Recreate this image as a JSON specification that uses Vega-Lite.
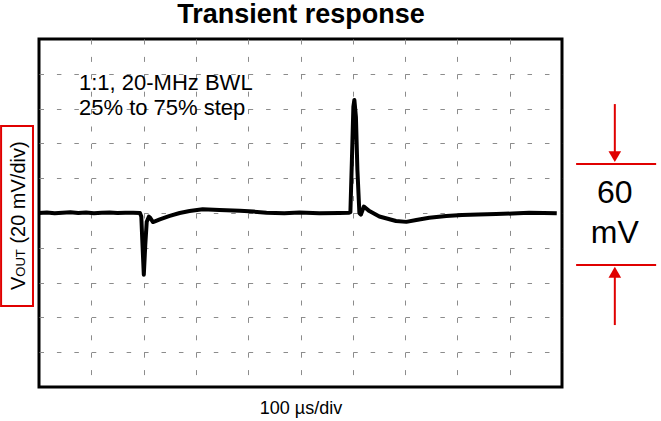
{
  "$schema": "https://vega.github.io/schema/vega-lite/v6.json",
  "width": 523,
  "height": 348,
  "autosize": {"type": "none"},
  "padding": {"left": 39, "top": 39, "right": 99, "bottom": 34},
  "background": "white",
  "config": {"view": {"stroke": "black", "strokeWidth": 3}},
  "datasets": {
    "trace": [
      {"t": 0, "v": 0}, {"t": 15, "v": 0.3}, {"t": 30, "v": -0.2}, {"t": 45, "v": 0.2},
      {"t": 60, "v": 0.4}, {"t": 75, "v": 0}, {"t": 90, "v": 0.3}, {"t": 105, "v": -0.1},
      {"t": 120, "v": 0.2}, {"t": 135, "v": 0.3}, {"t": 150, "v": 0}, {"t": 165, "v": 0.2},
      {"t": 180, "v": 0.1}, {"t": 193, "v": 0}, {"t": 195.6, "v": -2},
      {"t": 197.5, "v": -15.5}, {"t": 200.4, "v": -35.5}, {"t": 203.2, "v": -18.4},
      {"t": 206, "v": -5}, {"t": 210, "v": -2.1}, {"t": 212, "v": -2.5},
      {"t": 218, "v": -5.2}, {"t": 231, "v": -3.7}, {"t": 250, "v": -1.7},
      {"t": 269, "v": 0}, {"t": 288, "v": 1.1}, {"t": 313, "v": 2.1}, {"t": 345, "v": 1.7},
      {"t": 384, "v": 1.3}, {"t": 410, "v": 0.8}, {"t": 435, "v": 0.2}, {"t": 469, "v": -0.1},
      {"t": 498, "v": 0.3}, {"t": 536, "v": -0.2}, {"t": 574, "v": 0}, {"t": 593, "v": 0.2},
      {"t": 595.4, "v": 0.5}, {"t": 598.3, "v": 30.5}, {"t": 601.1, "v": 61},
      {"t": 603, "v": 65}, {"t": 606, "v": 55}, {"t": 608.8, "v": 24.7},
      {"t": 612.6, "v": 0}, {"t": 615.5, "v": -0.9}, {"t": 621.2, "v": 3.7},
      {"t": 631.7, "v": 1.1}, {"t": 650.8, "v": -2.0}, {"t": 682.6, "v": -4.6},
      {"t": 702.3, "v": -5.1}, {"t": 721.4, "v": -4.0}, {"t": 746.2, "v": -2.7},
      {"t": 778.6, "v": -1.7}, {"t": 809, "v": -1.1}, {"t": 840, "v": -0.8},
      {"t": 874, "v": -0.6}, {"t": 905, "v": -0.3}, {"t": 937, "v": 0.2},
      {"t": 965, "v": 0}, {"t": 990, "v": -0.2}
    ],
    "redRules": [
      {"t": 1027, "t2": 1180, "v": 28.2, "v2": 28.2},
      {"t": 1027, "t2": 1180, "v": -29.9, "v2": -29.9},
      {"t": 1101, "t2": 1101, "v": 62.6, "v2": 32.4},
      {"t": 1101, "t2": 1101, "v": -34.1, "v2": -64.4}
    ],
    "arrowDown": [{"t": 1101, "v": 32.4}],
    "arrowUp": [{"t": 1101, "v": -34.1}],
    "heading": [{"t": 501, "v": 109.2, "label": "Transient response"}],
    "note": [
      {"t": 76.5, "v": 70.7, "label": "1:1, 20-MHz BWL"},
      {"t": 76.5, "v": 56.3, "label": "25% to 75% step"}
    ],
    "span": [
      {"t": 1101, "v": 5.7, "label": "60"},
      {"t": 1101, "v": -17.2, "label": "mV"}
    ],
    "yLabelBig": [
      {"t": -27.7, "v": -44.3, "label": "V"},
      {"t": -27.7, "v": -17.6, "label": "(20 mV/div)"}
    ],
    "yLabelSub": [{"t": -27.7, "v": -36.6, "label": "OUT"}],
    "yBox": [{"t": -72.5, "t2": -11.5, "v": 50, "v2": -53.4}]
  },
  "layer": [
    {
      "data": {"name": "trace"},
      "mark": {"type": "line", "color": "black", "strokeWidth": 4, "strokeJoin": "round"},
      "encoding": {
        "x": {
          "field": "t",
          "type": "quantitative",
          "scale": {"domain": [0, 1000], "nice": false, "zero": false},
          "axis": {
            "values": [100, 200, 300, 400, 500, 600, 700, 800, 900],
            "grid": true,
            "gridColor": "#8c8c8c",
            "gridWidth": 1,
            "gridDash": [5, 12.4],
            "labels": false,
            "ticks": false,
            "domain": false,
            "title": "100 µs/div",
            "titleFont": "Liberation Sans",
            "titleFontSize": 18,
            "titleFontWeight": "normal",
            "titleColor": "black",
            "titleBaseline": "alphabetic",
            "titlePadding": 26
          }
        },
        "y": {
          "field": "v",
          "type": "quantitative",
          "scale": {"domain": [-100, 100], "nice": false, "zero": false},
          "axis": {
            "values": [-80, -60, -40, -20, 0, 20, 40, 60, 80],
            "grid": true,
            "gridColor": "#8c8c8c",
            "gridWidth": 1,
            "gridDash": [4.5, 12.93],
            "labels": false,
            "ticks": false,
            "domain": false,
            "title": null
          }
        }
      }
    },
    {
      "data": {"name": "yBox"},
      "mark": {"type": "rect", "filled": false, "color": "#e00000", "strokeWidth": 2, "clip": false},
      "encoding": {
        "x": {"field": "t", "type": "quantitative"},
        "x2": {"field": "t2"},
        "y": {"field": "v", "type": "quantitative"},
        "y2": {"field": "v2"}
      }
    },
    {
      "data": {"name": "redRules"},
      "mark": {"type": "rule", "color": "#e00000", "strokeWidth": 2, "clip": false},
      "encoding": {
        "x": {"field": "t", "type": "quantitative"},
        "x2": {"field": "t2"},
        "y": {"field": "v", "type": "quantitative"},
        "y2": {"field": "v2"}
      }
    },
    {
      "data": {"name": "arrowDown"},
      "mark": {"type": "point", "shape": "triangle-down", "filled": true, "size": 160, "color": "#e00000", "opacity": 1, "clip": false},
      "encoding": {
        "x": {"field": "t", "type": "quantitative"},
        "y": {"field": "v", "type": "quantitative"}
      }
    },
    {
      "data": {"name": "arrowUp"},
      "mark": {"type": "point", "shape": "triangle-up", "filled": true, "size": 160, "color": "#e00000", "opacity": 1, "clip": false},
      "encoding": {
        "x": {"field": "t", "type": "quantitative"},
        "y": {"field": "v", "type": "quantitative"}
      }
    },
    {
      "data": {"name": "heading"},
      "mark": {"type": "text", "align": "center", "baseline": "alphabetic", "font": "Liberation Sans", "fontSize": 27, "fontWeight": "bold", "color": "black", "clip": false},
      "encoding": {
        "x": {"field": "t", "type": "quantitative"},
        "y": {"field": "v", "type": "quantitative"},
        "text": {"field": "label"}
      }
    },
    {
      "data": {"name": "note"},
      "mark": {"type": "text", "align": "left", "baseline": "alphabetic", "font": "Liberation Sans", "fontSize": 22, "color": "black", "clip": false},
      "encoding": {
        "x": {"field": "t", "type": "quantitative"},
        "y": {"field": "v", "type": "quantitative"},
        "text": {"field": "label"}
      }
    },
    {
      "data": {"name": "span"},
      "mark": {"type": "text", "align": "center", "baseline": "alphabetic", "font": "Liberation Sans", "fontSize": 32, "color": "black", "clip": false},
      "encoding": {
        "x": {"field": "t", "type": "quantitative"},
        "y": {"field": "v", "type": "quantitative"},
        "text": {"field": "label"}
      }
    },
    {
      "data": {"name": "yLabelBig"},
      "mark": {"type": "text", "angle": 270, "align": "left", "baseline": "alphabetic", "font": "Liberation Sans", "fontSize": 20, "color": "black", "clip": false},
      "encoding": {
        "x": {"field": "t", "type": "quantitative"},
        "y": {"field": "v", "type": "quantitative"},
        "text": {"field": "label"}
      }
    },
    {
      "data": {"name": "yLabelSub"},
      "mark": {"type": "text", "angle": 270, "align": "left", "baseline": "alphabetic", "font": "Liberation Sans", "fontSize": 13, "color": "black", "clip": false},
      "encoding": {
        "x": {"field": "t", "type": "quantitative"},
        "y": {"field": "v", "type": "quantitative"},
        "text": {"field": "label"}
      }
    }
  ]
}
